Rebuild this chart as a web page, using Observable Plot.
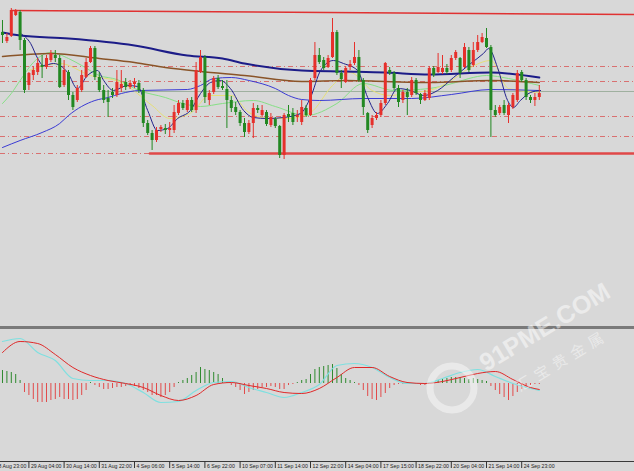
<!DOCTYPE html>
<html><head><meta charset="utf-8">
<script src="https://cdn.jsdelivr.net/npm/d3@7"></script>
<script src="https://cdn.jsdelivr.net/npm/@observablehq/plot@0.6"></script>
<style>
html,body{margin:0;padding:0;background:#d8d8d8;overflow:hidden;width:634px;height:471px;}
#wrap{position:relative;width:634px;height:471px;background:#d8d8d8;}
#main,#macd,#wm{position:absolute;left:0;}
#main{top:0;} #macd{top:330px;}
#sep{position:absolute;left:0;top:326px;width:634px;height:3px;background:#7a7a7a;}
#wm{top:0;pointer-events:none;}
</style></head><body>
<div id="wrap"><div id="main"></div><div id="sep"></div><div id="macd"></div><svg id="wm" width="634" height="471"></svg></div>
<script>
// ---- candles (price units) ----
const open = [368,359,364,385,388,360,315,325,328,335, 333,340,345,342,315,328,305,300,310,323, 338,352,323,310,302,308,305,312,318,313, 316,317,310,277,267,260,271,272,270,270, 287,297,290,300,290,328,343,300,308,322, 314,311,300,293,288,277,268,277,292,285, 288,275,281,274,245,286,287,283,278,292, 285,322,345,340,333,343,368,327,318,333, 337,343,320,287,275,282,285,297,330,327, 312,300,308,305,320,306,300,302,332,328, 328,332,330,342,342,333,350,335,350,358, 362,353,290,287,295,285,293,300,328,320, 303,300,303];
const close = [365,363,390,390,360,310,327,330,337,333, 342,347,342,313,330,305,293,312,325,338, 352,323,310,300,298,305,318,316,313,317, 318,310,277,267,260,270,273,270,272,288, 297,292,300,290,330,343,303,307,322,313, 312,300,292,288,277,268,277,292,290,290, 276,283,274,245,285,283,278,285,293,285, 320,345,338,332,342,368,327,321,332,336, 343,320,293,270,282,285,297,337,327,312, 298,308,303,320,307,300,307,332,325,333, 332,328,342,348,327,353,330,350,358,363, 353,290,285,293,287,295,305,327,320,303, 300,303,307];
const high = [380,367,392,391,390,362,328,334,342,345, 345,350,350,345,340,330,308,315,330,342, 354,354,328,315,310,312,330,330,322,320, 322,320,312,280,270,273,275,276,278,295, 300,300,302,303,338,350,345,310,324,325, 320,320,304,298,290,282,280,297,295,295, 290,287,283,275,287,295,292,290,300,295, 322,358,352,343,345,382,370,330,334,340, 358,350,322,288,285,288,300,338,333,329, 315,310,312,323,322,307,310,334,334,347, 345,336,345,350,343,357,353,358,365,367, 372,355,295,295,300,297,307,330,330,322, 305,307,315];
const low = [357,357,363,384,350,307,310,320,325,322, 331,338,338,312,313,300,290,298,308,322, 337,320,308,297,283,302,303,308,310,311, 312,307,273,265,250,258,268,266,263,267, 285,290,288,288,287,327,297,295,306,311, 310,272,288,285,274,263,266,262,287,283, 274,273,272,242,241,278,275,278,275,283, 284,320,336,330,332,342,325,312,317,330, 335,318,285,267,272,280,283,295,325,310, 293,297,285,303,305,296,299,300,323,327, 326,326,328,340,322,332,328,333,348,357, 352,263,283,285,285,277,291,298,318,300, 297,294,300];

// ---- moving averages (bar index, price) ----
const maNavyIdx = [0,4,15,30,42,50,55,68,78,87,97,111,122];
const maNavyVals = [368,365,362,355,345,342,337,330,329,328,326,328,323];
const maBrownIdx = [0,11,22,30,37,45,55,68,78,87,97,111,122];
const maBrownVals = [344,347,342,338,333,329,325,319,320,319,318,320,318];
const maBlueIdx = [0,4,9,13,15,21,24,27,31,42,45,48,52,56,62,65,68,72,82,93,102,111,122];
const maBlueVals = [253,260,268,277,285,300,303,307,310,311,315,322,323,320,312,305,301,300,302,302,306,311,310];
const maGreenIdx = [0,2,4,7,11,15,18,22,26,31,37,41,45,50,57,62,69,76,82,89,97,103,106,110,115,122];
const maGreenVals = [297,307,320,338,348,342,335,325,321,310,303,297,294,297,300,294,285,297,317,310,312,318,322,325,322,315];
const maYellowIdx = [6,13,20,27,34,38,43,47,52,56,61,65,70,75,79,84,88,93,97,102,106,111,115,122];
const maYellowVals = [330,337,325,318,295,282,288,305,305,288,282,282,288,315,328,310,305,308,310,320,332,340,312,308];
const maFastIdx = [4.1,6.4,8,9.3,11.6,14.8,17,19.3,21.6,23,25.2,28.4,30.7,33,35.2,37.5,39.8,42.7,45,47.3,49.5,51.8,54.8,57,60.2,63.9,67.7,70,72.3,75.2,77.5,80.7,83,85.2,87.5,89.8,92.7,95.7,98.9,102.5,106.4,109.3,110.5,112.5,114.8,116.1,117.7,120,122.3];
const maFastVals = [367,357,342,335,337,328,312,325,330,320,310,315,314,290,270,272,282,290,307,318,320,312,290,283,282,283,287,303,330,340,337,330,303,287,297,312,310,305,310,323,337,347,352,333,300,293,300,308,310];

// ---- levels ----
const dashLevels = [334, 319, 284, 264, 247];
const bidLevel = [309];
const topLineIdx = [2, 143.6];
const topLineVals = [390, 386];
const supportIdx = [33.5, 143.6];
const supportVals = [247, 247];

// ---- MACD ----
const histVals = [13,12,11,9,3,-9,-12,-16,-19,-19, -19,-17,-16,-14,-16,-16,-17,-16,-12,-7, 1,-2,-4,-6,-6,-5,-4,-4,-3,-2, -3,-5,-7,-9,-12,-12,-14,-12,-9,-4, 1,3,5,8,11,16,14,13,11,9, 5,1,-2,-4,-7,-11,-9,-7,-6,-4, -4,-3,-4,-6,-6,-2,-1,1,3,4, 9,14,16,17,18,19,15,9,5,3, 1,-2,-7,-13,-16,-17,-14,-10,-5,-2, -1,-1,1,-1,-1,-2,-2,1,2,3, 4,5,6,6,6,5,4,5,4,3, 2,-3,-7,-11,-14,-17,-13,-9,-6,-3, -2,-1,-1];
const macdIdx = [0,4,8,12,16,20,24,28,32,36,40,44,48,52,56,60,64,68,72,76,80,84,88,92,96,100,104,108,112,116,120,122];
const macdMain = [42,45,31,23,5,3,3,0,-9,-19,-18,-7,1,2,-4,-9,-14,-9,-1,18,20,16,6,0,0,5,11,14,7,0,-5,-7];
const macdSignal = [31,42,40,29,16,8,3,0,-4,-12,-17,-12,-1,1,-2,-5,-9,-10,-5,6,16,16,7,1,0,2,6,10,12,4,-4,-6];

// ---- time axis ----
const tickIdx = [-2,6,14,22,30,38,46,54,62,70,78,86,94,102,110,118];
const tickLabels = ["28 Aug 23:00","29 Aug 04:00","30 Aug 14:00","31 Aug 22:00","4 Sep 06:00","5 Sep 14:00","6 Sep 22:00","10 Sep 07:00","11 Sep 14:00","12 Sep 22:00","14 Sep 04:00","17 Sep 15:00","18 Sep 22:00","20 Sep 04:00","21 Sep 14:00","24 Sep 23:00"];

const UP = "#e6302b", DOWN = "#228822";
const xDomain = [-0.4545, 143.636];
const candles = open.map((o, i) => ({i, o, c: close[i], h: high[i], l: low[i], col: close[i] > o ? UP : DOWN}));
const pts = (idx, vals) => idx.map((i, k) => ({i, v: vals[k]}));

const main = Plot.plot({
  width: 634, height: 326, margin: 0,
  x: {domain: xDomain, axis: null, label: null},
  y: {domain: [74, 400], axis: null, label: null},
  style: {background: "transparent"},
  marks: [
    Plot.ruleY(dashLevels, {stroke: "#d97070", strokeWidth: 1, strokeDasharray: "5,3,1,3"}),
    Plot.ruleY(bidLevel, {stroke: "#9fb09f", strokeWidth: 1}),
    Plot.line(pts(topLineIdx, topLineVals), {x: "i", y: "v", stroke: "#e03232", strokeWidth: 1.5}),
    Plot.line(pts(supportIdx, supportVals), {x: "i", y: "v", stroke: "#e04848", strokeWidth: 2.5}),
    Plot.line(pts(maGreenIdx, maGreenVals), {x: "i", y: "v", stroke: "#86e086", strokeWidth: 1, curve: "monotone-x"}),
    Plot.line(pts(maYellowIdx, maYellowVals), {x: "i", y: "v", stroke: "#e6df78", strokeWidth: 1, curve: "monotone-x"}),
    Plot.line(pts(maBlueIdx, maBlueVals), {x: "i", y: "v", stroke: "#3b3bd4", strokeWidth: 1, curve: "monotone-x"}),
    Plot.line(pts(maBrownIdx, maBrownVals), {x: "i", y: "v", stroke: "#8a5428", strokeWidth: 1.5, curve: "monotone-x"}),
    Plot.line(pts(maNavyIdx, maNavyVals), {x: "i", y: "v", stroke: "#1c1c88", strokeWidth: 2, curve: "monotone-x"}),
    Plot.line(pts(maFastIdx, maFastVals), {x: "i", y: "v", stroke: "#23238c", strokeWidth: 1, curve: "monotone-x"}),
    Plot.ruleX(candles, {x: "i", y1: "l", y2: "h", stroke: "col", strokeWidth: 1}),
    Plot.ruleX(candles, {x: "i", y1: "o", y2: "c", stroke: "col", strokeWidth: 3})
  ]
});
document.getElementById("main").appendChild(main);

const hist = histVals.map((v, i) => ({i, v}));
const macd = Plot.plot({
  width: 634, height: 141, marginTop: 0, marginLeft: 0, marginRight: 0, marginBottom: 10,
  x: {domain: xDomain, axis: null, label: null},
  y: {domain: [-78, 53], axis: null, label: null},
  style: {background: "transparent"},
  marks: [
    Plot.ruleX(hist, {x: "i", y1: 0, y2: "v", stroke: d => d.v >= 0 ? "#2f8a2f" : "#e24a4a", strokeWidth: 1}),
    Plot.line(pts(macdIdx, macdMain), {x: "i", y: "v", stroke: "#7fe0e0", strokeWidth: 1.2, curve: "monotone-x"}),
    Plot.line(pts(macdIdx, macdSignal), {x: "i", y: "v", stroke: "#e02828", strokeWidth: 1, curve: "monotone-x"}),
    Plot.ruleY([-78], {stroke: "#3a3a3a", strokeWidth: 1}),
    Plot.axisX({anchor: "bottom", ticks: tickIdx, tickSize: 7, tickFormat: () => "", label: null, stroke: "#333"}),
    Plot.text(tickIdx, {x: d => d, frameAnchor: "bottom", text: (d, k) => tickLabels[k], textAnchor: "start", lineAnchor: "top", dx: 2, dy: 2.5, fontSize: 5.2, fontFamily: "Liberation Sans", fill: "#222"})
  ]
});
document.getElementById("macd").appendChild(macd);

// watermark
const wm = d3.select("#wm");
wm.append("circle").attr("cx", 452).attr("cy", 388).attr("r", 22).attr("fill", "none").attr("stroke", "#ffffff").attr("stroke-opacity", 0.45).attr("stroke-width", 7);
wm.append("text").attr("x", 0).attr("y", 0).attr("transform", "translate(486,372) rotate(-31)")
  .attr("font-family", "Liberation Sans").attr("font-weight", "bold").attr("font-size", 25)
  .attr("fill", "#ffffff").attr("fill-opacity", 0.5).text("91PME.COM");
wm.append("text").attr("x", 0).attr("y", 0).attr("transform", "translate(520,392) rotate(-31)")
  .attr("font-family", "Noto Sans CJK SC").attr("font-size", 15).attr("letter-spacing", 6)
  .attr("fill", "#ffffff").attr("fill-opacity", 0.45).text("汇宝贵金属");
</script></body></html>
